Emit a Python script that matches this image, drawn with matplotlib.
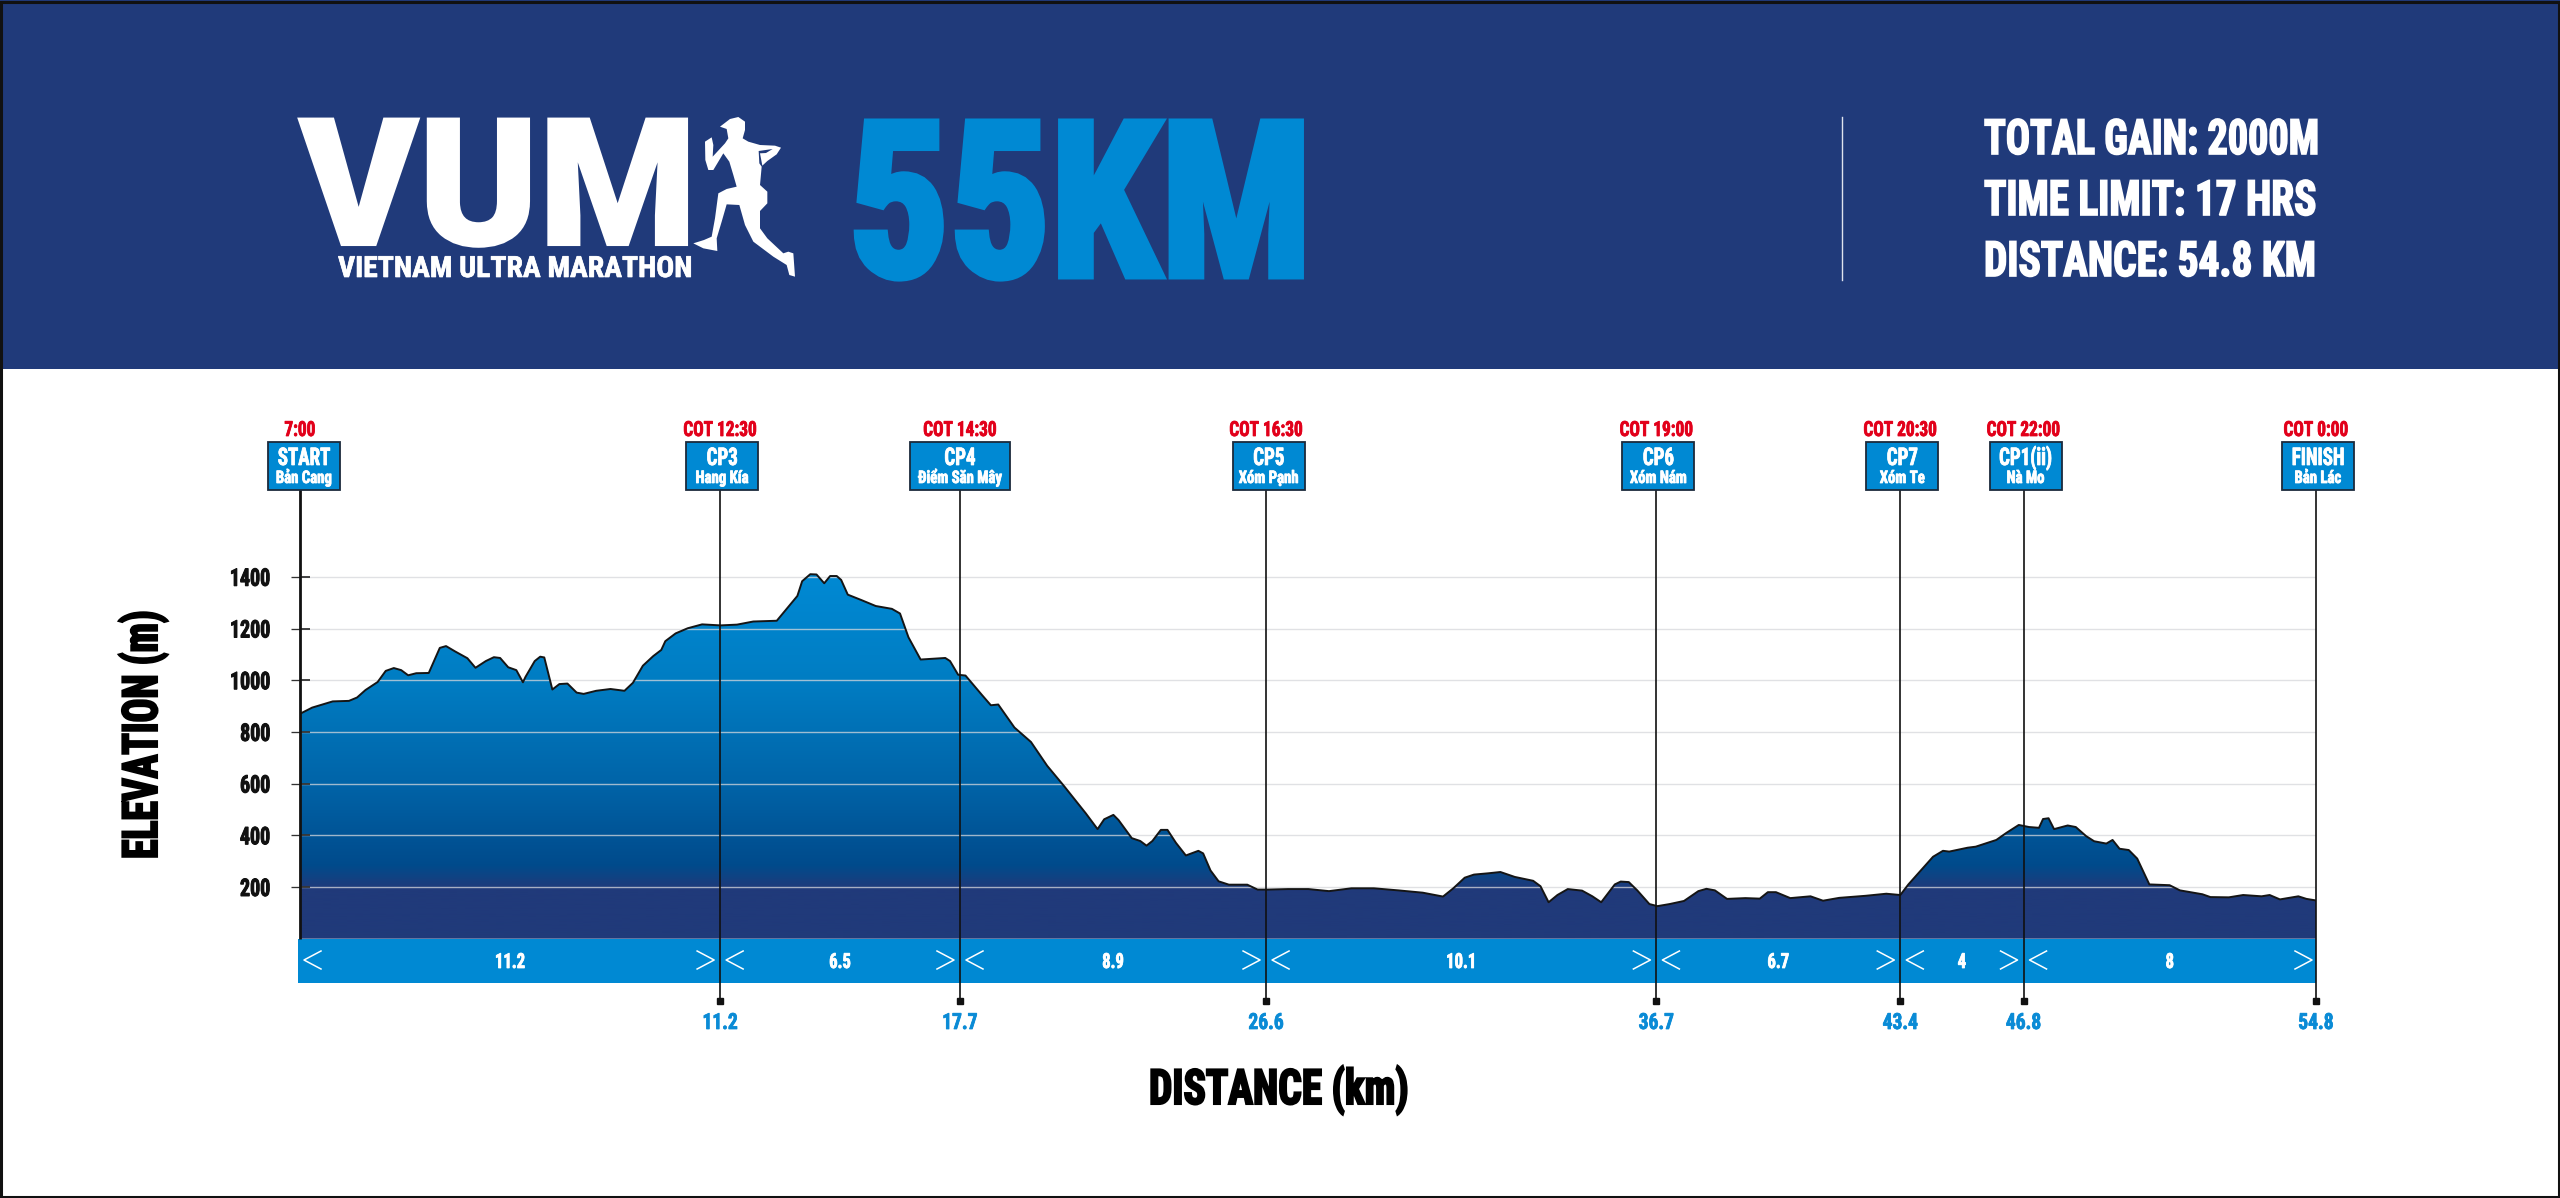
import numpy as np
import matplotlib
matplotlib.use("Agg")
import matplotlib.pyplot as plt
import matplotlib.patheffects as pe
from matplotlib.colors import LinearSegmentedColormap
from matplotlib.patches import Rectangle, Polygon
from matplotlib.transforms import Affine2D, blended_transform_factory

# elevation profile
dist_km = [0, .33, .89, 1.33, 1.55, 1.78, 2.11, 2.33, 2.55, 2.75, 2.94, 3.16, 3.50, 3.80, 3.97, 4.22, 4.55, 4.77,
           5.05, 5.27, 5.44, 5.66, 5.88, 6.06, 6.13, 6.38, 6.53, 6.64, 6.86, 7.05, 7.27, 7.52, 7.71, 8.05, 8.44,
           8.82, 9.05, 9.32, 9.60, 9.82, 9.93, 10.21, 10.54, 10.93, 11.43, 11.88, 12.32, 12.96, 13.21, 13.52,
           13.65, 13.87, 14.04, 14.25, 14.41, 14.59, 14.71, 14.89, 15.26, 15.65, 16.09, 16.31, 16.54, 16.87,
           17.54, 17.67, 17.89, 18.09, 18.53, 18.78, 18.98, 19.42, 19.87, 20.31, 20.76, 21.36, 21.68, 21.86,
           22.11, 22.25, 22.61, 22.84, 23.01, 23.17, 23.40, 23.58, 23.81, 24.08, 24.42, 24.55, 24.75, 24.97,
           25.25, 25.75, 26.03, 26.30, 26.86, 27.41, 27.97, 28.58, 29.19, 29.85, 30.52, 31.07, 31.35, 31.66,
           31.91, 32.30, 32.63, 33.02, 33.52, 33.72, 33.94, 34.18, 34.46, 34.85, 35.13, 35.37, 35.74, 35.90,
           36.12, 36.35, 36.68, 36.90, 37.23, 37.62, 38.01, 38.23, 38.46, 38.79, 39.29, 39.68, 39.90, 40.12,
           40.51, 41.06, 41.40, 41.84, 42.56, 43.12, 43.50, 43.72, 44.39, 44.66, 44.83, 45.33, 45.55, 46.11,
           46.38, 46.72, 47.00, 47.27, 47.38, 47.53, 47.68, 48.05, 48.27, 48.55, 48.77, 49.10, 49.27, 49.46,
           49.71, 49.94, 50.27, 50.82, 51.10, 51.71, 51.93, 52.43, 52.82, 53.32, 53.54, 53.82, 54.32, 54.54, 54.8]
elev_m = [870, 894, 918, 920, 933, 962, 993, 1036, 1047, 1039, 1019, 1027, 1028, 1125, 1132, 1111, 1085, 1048,
          1074, 1089, 1086, 1050, 1039, 992, 1013, 1074, 1091, 1088, 964, 985, 987, 952, 947, 959, 966,
          959, 990, 1056, 1093, 1117, 1151, 1181, 1201, 1216, 1212, 1215, 1227, 1230, 1273, 1326,
          1383, 1410, 1409, 1375, 1403, 1403, 1388, 1331, 1310, 1287, 1276, 1258, 1166, 1080,
          1086, 1074, 1021, 1018, 944, 903, 906, 817, 761, 669, 592, 485, 424, 462,
          479, 459, 389, 378, 360, 378, 421, 421, 371, 322, 340, 330, 264, 222,
          209, 209, 190, 190, 192, 192, 184, 195, 195, 187, 178, 163, 195, 236,
          248, 253, 258, 239, 224, 203, 141, 169, 192, 186, 164, 141, 210, 221,
          219, 187, 134, 126, 134, 146, 184, 193, 187, 154, 157, 155, 180, 180,
          157, 164, 147, 158, 166, 174, 169, 210, 317, 340, 337, 352, 356, 382,
          409, 440, 432, 429, 463, 466, 424, 438, 432, 397, 377, 368, 382, 348,
          343, 310, 210, 207, 187, 172, 161, 160, 169, 164, 169, 152, 164, 154, 148]

y_ticks = [200, 400, 600, 800, 1000, 1200, 1400]

# checkpoints (drawn position differs a bit from the printed km in the original)
cp_pos = [0, 11.42, 17.94, 26.26, 36.87, 43.50, 46.85, 54.8]
cp_km = ["", "11.2", "17.7", "26.6", "36.7", "43.4", "46.8", "54.8"]
cp_cot = ["7:00", "COT 12:30", "COT 14:30", "COT 16:30", "COT 19:00", "COT 20:30", "COT 22:00", "COT 0:00"]
cp_name = ["START", "CP3", "CP4", "CP5", "CP6", "CP7", "CP1(ii)", "FINISH"]
cp_place = ["Bản Cang", "Hang Kía", "Điểm Săn Mây", "Xóm Pạnh", "Xóm Nám", "Xóm Te", "Nà Mo", "Bản Lác"]
leg_km = ["11.2", "6.5", "8.9", "10.1", "6.7", "4", "8"]

stats = ["TOTAL GAIN: 2000M", "TIME LIMIT: 17 HRS", "DISTANCE: 54.8 KM"]

# logo figure, pixels of the picture
runner = [(120, 65), (150, 42), (175, 36), (195, 50), (195, 75), (188, 100), (205, 110), (240, 120), (285, 122),
          (303, 128), (290, 148), (262, 168), (247, 182), (240, 145), (258, 144), (278, 132), (236, 138), (238, 175),
          (245, 185), (240, 240), (262, 260), (262, 295), (240, 318), (240, 370), (262, 400), (310, 445), (325, 440),
          (340, 445), (345, 515), (328, 510), (320, 480), (280, 455), (220, 410), (195, 360), (178, 300), (140, 298),
          (125, 350), (110, 400), (112, 438), (70, 430), (40, 415), (72, 405), (95, 395), (105, 340), (115, 265),
          (140, 252), (170, 245), (160, 210), (148, 170), (130, 145), (100, 195), (85, 195), (76, 165), (75, 110),
          (95, 97), (100, 120), (98, 155), (135, 115), (145, 100), (140, 72)]

NAVY = "#203a7a"
BLUE = "#0089d3"
RED = "#e2001a"
COND = ["Roboto Condensed", "DejaVu Sans"]
W, H = 2560, 1198
PX_KM = 2016 / 54.8

fig = plt.figure(figsize=(W / 100, H / 100), dpi=100, facecolor="white")


class Squeeze(pe.AbstractPathEffect):
    # no Impact here, so condense the glyphs around the text anchor and thicken them
    def __init__(self, text, sx=1.0, sy=1.0, stroke=0.0):
        super().__init__()
        self.text, self.sx, self.sy, self.stroke = text, sx, sy, stroke

    def draw_path(self, renderer, gc, tpath, affine, rgbFace=None):
        x0, y0 = self.text.get_transform().transform(self.text.get_position())
        aff = affine + Affine2D().translate(-x0, -y0).scale(self.sx, self.sy).translate(x0, y0)
        if self.stroke:
            gc0 = renderer.new_gc()
            gc0.copy_properties(gc)
            gc0.set_linewidth(self.stroke)
            gc0.set_foreground(rgbFace)
            gc0.set_joinstyle("miter")
            renderer.draw_path(gc0, tpath, aff, rgbFace)
            gc0.restore()
        renderer.draw_path(gc, tpath, aff, rgbFace)


def narrow(t, sx=1.0, width=None, stroke=0.0):
    if width is not None:
        box = t.get_window_extent(fig.canvas.get_renderer())
        if t.get_rotation() == 90:
            t.set_path_effects([Squeeze(t, sy=width / box.height, stroke=stroke)])
            return t
        sx = width / box.width
    t.set_path_effects([Squeeze(t, sx=sx, stroke=stroke)])
    return t


# full figure axes in pixels, for header and furniture
pix = fig.add_axes([0, 0, 1, 1], zorder=0)
pix.set_xlim(0, W)
pix.set_ylim(H, 0)
pix.axis("off")


def label(x, y, s, size, color, **kw):
    kw.setdefault("family", COND)
    kw.setdefault("fontweight", "bold")
    return pix.text(x, y, s, fontsize=size, color=color, va="baseline", **kw)


# header
pix.add_patch(Rectangle((0, 0), W, 369, fc=NAVY, ec="none"))
narrow(label(299, 245, "VUM", 128, "white", family=["Roboto", "DejaVu Sans"], fontweight=900), width=398, stroke=1.5)
narrow(label(338, 277, "VIETNAM ULTRA MARATHON", 21, "white"), width=354, stroke=.5)
pix.add_patch(Polygon([(680 + x / 3, 105 + y / 3) for x, y in runner], fc="white", ec="none"))
narrow(label(848, 276, "55KM", 156, BLUE), width=464, stroke=5)
pix.plot([1842, 1842], [117, 280], color="#dfe3ee", lw=1)
for y, s, w in zip([154, 215, 276], stats, [335, 333, 332]):
    narrow(label(1984, y, s, 35, "white"), width=w, stroke=1.2)

# frame
pix.add_patch(Rectangle((1, 1.5), W - 2, H - 3, fc="none", ec="#111111", lw=2.2, zorder=10))

# chart axes, x in km and y in metres
y_top = 1500
px_m = (938.7 - 576.8) / 1400
ax = fig.add_axes([300 / W, (H - 938.7) / H, 2016 / W, y_top * px_m / H], zorder=1)
ax.patch.set_alpha(0)
for s in ax.spines.values():
    s.set_visible(False)

grad = LinearSegmentedColormap.from_list("elev", [(0, NAVY), (190 / y_top, NAVY), (285 / y_top, "#004b8c"),
                                                  (600 / y_top, "#0064a8"), (1000 / y_top, "#007dc3"),
                                                  (1400 / y_top, "#0089d3"), (1, "#008bd6")])
img = ax.imshow(np.linspace(0, 1, 500)[:, None], extent=[0, 54.8, 0, y_top], origin="lower", cmap=grad,
                aspect="auto", zorder=1)
area = Polygon(list(zip([0] + dist_km + [54.8], [0] + elev_m + [0])), transform=ax.transData, fc="none", ec="none")
ax.add_patch(area)
img.set_clip_path(area)

ax.hlines(y_ticks, 0, 54.8, color="#d6d8dc", lw=1.0, alpha=.75, zorder=2)
ax.hlines(y_ticks, 0, 10 / PX_KM, color="#333333", lw=1.3, zorder=3)
ax.plot(dist_km, elev_m, color="#151515", lw=1.4, solid_joinstyle="round", zorder=4)

ax.set_xlim(0, 54.8)
ax.set_ylim(0, y_top)
ax.set_xticks([])
ax.set_yticks(y_ticks)
ax.set_yticklabels([str(v) for v in y_ticks], family=COND, fontsize=17.5, fontweight="bold", color="#111111")
ax.tick_params(axis="y", direction="out", length=6.5, width=.95, color="#333333", pad=15)
for t in ax.get_yticklabels():
    narrow(t, .82, stroke=.7)

# x in km, y in pixels
tr = blended_transform_factory(ax.transData, pix.transData)


def chart_label(x, y, s, size, color, sx, stroke=.55, zorder=9):
    t = ax.text(x, y, s, transform=tr, ha="center", va="baseline", color=color, family=COND, fontsize=size,
                fontweight="bold", clip_on=False, zorder=zorder)
    return narrow(t, sx, stroke=stroke)


# distance strip and legs
ax.add_patch(Rectangle((-2 / PX_KM, 938.7), 54.8 + 2 / PX_KM, 44.2, transform=tr, fc=BLUE, ec="none",
                       clip_on=False, zorder=5))
for a, b, s in zip(cp_pos[:-1], cp_pos[1:], leg_km):
    chart_label((a + b) / 2, 968, s, 15, "white", .8, zorder=7)
for i, x in enumerate(cp_pos):
    near = 4 if i in (0, len(cp_pos) - 1) else 6
    far = near + 17
    for side in (-1, 1):
        if (i == 0 and side == -1) or (i == len(cp_pos) - 1 and side == 1):
            continue
        ax.plot([x + side * far / PX_KM, x + side * near / PX_KM, x + side * far / PX_KM], [951, 960, 969],
                transform=tr, color="white", lw=1.1, clip_on=False, zorder=7)

# checkpoint lines, flags and labels
box_w = [72, 72, 100, 72, 72, 72, 72, 72]
box_off = [4, 2, 0, 2.7, 2, 2, 2, 2]
for i, x in enumerate(cp_pos):
    first = i == 0
    ax.plot([x, x], [489, 939 if first else 1001], transform=tr, color="#111111", lw=2 if first else 1.2,
            clip_on=False, zorder=8, solid_capstyle="butt")
    if not first:
        ax.plot([x], [1001], transform=tr, marker="s", ms=4.6, color="#111111", clip_on=False, zorder=8)
        chart_label(x, 1029, cp_km[i], 16, "#0a8bd6", .88, zorder=3)
    cx = x + box_off[i] / PX_KM
    ax.add_patch(Rectangle((cx - box_w[i] / 2 / PX_KM, 442), box_w[i] / PX_KM, 48, transform=tr, fc=BLUE,
                           ec="#1b2a3c", lw=1.3, clip_on=False, zorder=8))
    chart_label(x, 436, cp_cot[i], 15, RED, .83)
    chart_label(cx, 465, cp_name[i], 17.5, "white", .78)
    chart_label(cx, 483, cp_place[i], 12.5, "white", .85)

# axis titles
narrow(label(1279, 1104, "DISTANCE (km)", 35, "#000000", ha="center"), width=260, stroke=1.5)
narrow(label(157, 734.5, "ELEVATION (m)", 35, "#000000", ha="center", rotation=90, rotation_mode="anchor"),
       width=249, stroke=1.5)

fig.savefig("out.png", dpi=100)
